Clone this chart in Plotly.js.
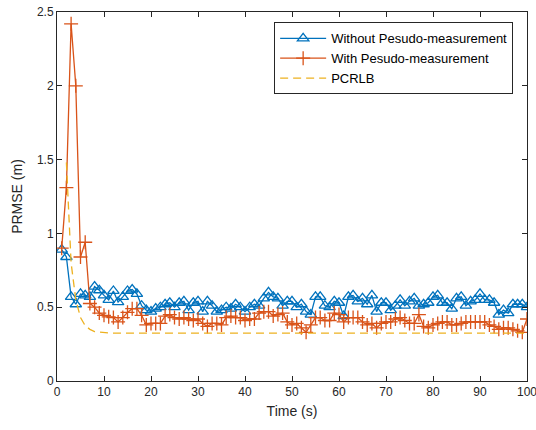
<!DOCTYPE html>
<html>
<head>
<meta charset="utf-8">
<script src="https://cdn.plot.ly/plotly-3.0.1.min.js"></script>
<style>html,body{margin:0;padding:0;background:#fff;}#chart{width:536px;height:430px;}</style>
</head>
<body>
<div id="chart"></div>
<script>
var time = [1,2,3,4,5,6,7,8,9,10,11,12,13,14,15,16,17,18,19,20,21,22,23,24,25,26,27,28,29,30,31,32,33,34,35,36,37,38,39,40,41,42,43,44,45,46,47,48,49,50,51,52,53,54,55,56,57,58,59,60,61,62,63,64,65,66,67,68,69,70,71,72,73,74,75,76,77,78,79,80,81,82,83,84,85,86,87,88,89,90,91,92,93,94,95,96,97,98,99,100];

var withoutPseudo = [0.89,0.84,0.57,0.52,0.59,0.58,0.57,0.64,0.615,0.58,
  0.55,0.61,0.535,0.57,0.61,0.62,0.59,0.51,0.48,0.47,
  0.49,0.50,0.52,0.53,0.50,0.53,0.54,0.48,0.53,0.54,
  0.47,0.54,0.51,0.47,0.48,0.50,0.49,0.52,0.50,0.47,
  0.50,0.52,0.51,0.56,0.60,0.57,0.56,0.51,0.54,0.54,
  0.50,0.52,0.47,0.45,0.57,0.57,0.51,0.50,0.54,0.53,
  0.44,0.57,0.58,0.54,0.56,0.52,0.58,0.47,0.53,0.53,
  0.48,0.51,0.55,0.51,0.54,0.56,0.51,0.52,0.53,0.57,
  0.58,0.53,0.53,0.49,0.56,0.57,0.51,0.54,0.55,0.59,
  0.55,0.55,0.53,0.45,0.48,0.46,0.52,0.52,0.52,0.50];

var withPseudo = [0.90,1.31,2.42,2.00,0.84,0.94,0.525,0.50,0.46,0.445,
  0.435,0.43,0.40,0.43,0.465,0.49,0.49,0.445,0.38,0.39,
  0.39,0.39,0.44,0.45,0.43,0.42,0.43,0.42,0.41,0.42,
  0.39,0.37,0.39,0.39,0.38,0.43,0.44,0.43,0.43,0.41,
  0.42,0.42,0.46,0.47,0.47,0.44,0.45,0.46,0.40,0.38,
  0.39,0.36,0.33,0.38,0.43,0.43,0.41,0.41,0.46,0.45,
  0.40,0.43,0.43,0.43,0.40,0.38,0.39,0.36,0.39,0.40,
  0.40,0.42,0.43,0.41,0.39,0.39,0.45,0.37,0.36,0.38,
  0.39,0.40,0.40,0.38,0.38,0.39,0.40,0.40,0.40,0.40,
  0.40,0.38,0.37,0.35,0.36,0.36,0.35,0.34,0.33,0.42];

var pcrlb = [null,1.48,0.80,0.55,0.43,0.375,0.35,0.335,0.33,0.325,
  0.325,0.325,0.325,0.325,0.325,0.325,0.325,0.325,0.325,0.325,
  0.325,0.325,0.325,0.325,0.325,0.325,0.325,0.325,0.325,0.325,
  0.325,0.325,0.325,0.325,0.325,0.325,0.325,0.325,0.325,0.325,
  0.325,0.325,0.325,0.325,0.325,0.325,0.325,0.325,0.325,0.325,
  0.325,0.325,0.325,0.325,0.325,0.325,0.325,0.325,0.325,0.325,
  0.325,0.325,0.325,0.325,0.325,0.325,0.325,0.325,0.325,0.325,
  0.325,0.325,0.325,0.325,0.325,0.325,0.325,0.325,0.325,0.325,
  0.325,0.325,0.325,0.325,0.325,0.325,0.325,0.325,0.325,0.325,
  0.325,0.325,0.325,0.325,0.325,0.325,0.325,0.325,0.325,0.325];

var seriesNames = ['Without Pesudo-measurement','With Pesudo-measurement','PCRLB'];
var xTicks = [0,10,20,30,40,50,60,70,80,90,100];
var yTicks = [0,0.5,1,1.5,2,2.5];
var yTickLabels = ['0','0.5','1','1.5','2','2.5'];

var FONT = 'Liberation Sans, Arial, Helvetica, sans-serif';
var AX = '#262626';

var traces = [
  {x: time, y: withoutPseudo, name: seriesNames[0], type: 'scatter', mode: 'lines+markers',
   line: {color: '#0072BD', width: 1.3},
   marker: {symbol: 'triangle-up-open', size: 10, color: '#0072BD', line: {color: '#0072BD', width: 1.3}}},
  {x: time, y: withPseudo, name: seriesNames[1], type: 'scatter', mode: 'lines+markers',
   line: {color: '#D95319', width: 1.3},
   marker: {symbol: 'cross-thin-open', size: 10, color: '#D95319', line: {color: '#D95319', width: 1.3}}},
  {x: time, y: pcrlb, name: seriesNames[2], type: 'scatter', mode: 'lines',
   line: {color: '#EDB120', width: 1.3, dash: '8px,5px'}}
];

var layout = {
  width: 536, height: 430,
  margin: {l: 56.5, r: 8.5, t: 12, b: 49.3},
  paper_bgcolor: '#fff', plot_bgcolor: '#fff',
  showlegend: true,
  font: {family: FONT, size: 12, color: AX},
  xaxis: {
    range: [0, 100], tickvals: xTicks, ticks: 'inside', ticklen: 5, tickcolor: AX,
    showline: true, linecolor: AX, linewidth: 1, mirror: 'ticks', showgrid: false, zeroline: false,
    ticklabeloverflow: 'allow',
    tickfont: {family: FONT, size: 12, color: AX},
    title: {text: 'Time (s)', font: {family: FONT, size: 14, color: AX}, standoff: 7}
  },
  yaxis: {
    range: [0, 2.5], tickvals: yTicks, ticktext: yTickLabels, ticks: 'inside', ticklen: 5, tickcolor: AX,
    showline: true, linecolor: AX, linewidth: 1, mirror: 'ticks', showgrid: false, zeroline: false,
    tickfont: {family: FONT, size: 12, color: AX},
    title: {text: 'PRMSE (m)', font: {family: FONT, size: 14, color: AX}, standoff: 11}
  },
  legend: {
    x: 0.462, y: 0.972, xanchor: 'left', yanchor: 'top',
    bgcolor: '#fff', bordercolor: AX, borderwidth: 1,
    font: {family: FONT, size: 13, color: '#000'},
    itemwidth: 46, tracegroupgap: 0
  }
};

Plotly.newPlot('chart', traces, layout, {staticPlot: true, displayModeBar: false});
</script>
</body>
</html>
